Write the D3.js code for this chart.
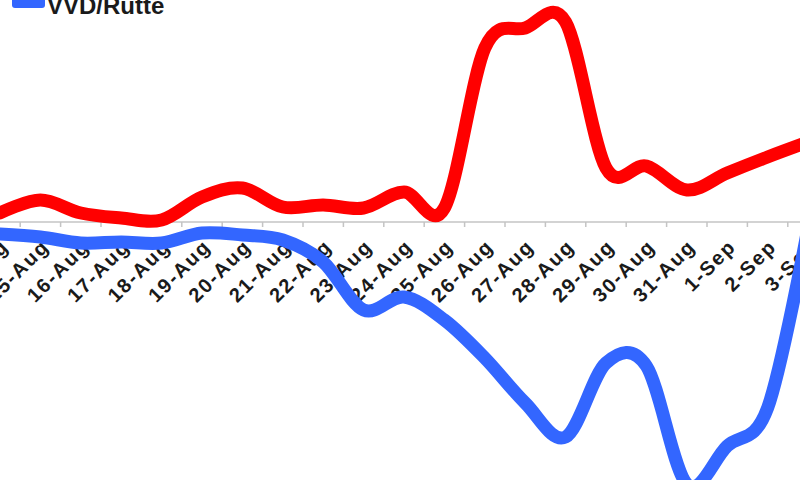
<!DOCTYPE html>
<html>
<head>
<meta charset="utf-8">
<script src="https://cdnjs.cloudflare.com/ajax/libs/d3/7.8.5/d3.min.js"></script>
<style>
  html, body { margin: 0; padding: 0; background: #fff; overflow: hidden; }
  svg { display: block; font-family: "Liberation Sans", Arial, sans-serif; }
</style>
</head>
<body>
<script>
// daily categories (the view is cropped: 14-Aug sits on the left edge, 3-Sep just past the right one)
var days = ["14-Aug", "15-Aug", "16-Aug", "17-Aug", "18-Aug", "19-Aug", "20-Aug",
            "21-Aug", "22-Aug", "23-Aug", "24-Aug", "25-Aug", "26-Aug", "27-Aug",
            "28-Aug", "29-Aug", "30-Aug", "31-Aug", "1-Sep", "2-Sep", "3-Sep"];

// red series (above zero)
var redValues = [4.5, 11, 4.5, 2, 1, 12.5, 17, 7.5, 8.5, 7, 15, 7,
                 87, 97, 100, 27, 28, 16, 24.5, 32.5, 40];

// blue series VVD/Rutte (below zero)
var vvdValues = [-6, -7.5, -10.5, -10, -10.5, -5.5, -6.5, -9, -20, -44, -37.5, -49,
                 -68, -90.5, -107.5, -70.5, -72, -131, -112, -93, -3];

var legendLabel = "VVD/Rutte";

var width = 800, height = 480;

var svg = d3.select("body")
    .append("svg")
    .attr("width", width)
    .attr("height", height);

// one category every ~40.4px, first one on x = 0
var x = d3.scalePoint()
    .domain(days)
    .range([0, 808]);

var step = x.step();

// zero line sits at y = 222
var y = d3.scaleLinear()
    .domain([-129, 111])
    .range([480, 0]);

// category axis, ticks between the categories
var axis = svg.append("g")
    .attr("transform", "translate(0," + y(0) + ")");

axis.append("line")
    .attr("x1", 0)
    .attr("x2", width)
    .attr("stroke", "#c4c4c4")
    .attr("stroke-width", 1.5);

axis.selectAll(".tick")
    .data(days)
    .enter().append("line")
    .attr("class", "tick")
    .attr("x1", d => x(d) + step / 2)
    .attr("x2", d => x(d) + step / 2)
    .attr("y1", 0)
    .attr("y2", 5)
    .attr("stroke", "#c4c4c4")
    .attr("stroke-width", 1.5);

axis.selectAll("text")
    .data(days)
    .enter().append("text")
    .attr("transform", d => "translate(" + (x(d) + 5) + ",21) rotate(-45)")
    .attr("text-anchor", "end")
    .attr("dy", "0.35em")
    .attr("font-size", "20px")
    .attr("font-weight", "bold")
    .attr("letter-spacing", "1.8px")
    .attr("fill", "#1a1a1a")
    .text(d => d);

var line = d3.line()
    .curve(d3.curveCardinal.tension(0))
    .x((d, i) => x(days[i]))
    .y(d => y(d));

svg.append("path")
    .datum(redValues)
    .attr("fill", "none")
    .attr("stroke", "#ff0000")
    .attr("stroke-width", 13)
    .attr("stroke-linejoin", "round")
    .attr("stroke-linecap", "round")
    .attr("d", line);

svg.append("path")
    .datum(vvdValues)
    .attr("fill", "none")
    .attr("stroke", "#3366ff")
    .attr("stroke-width", 13)
    .attr("stroke-linejoin", "round")
    .attr("stroke-linecap", "round")
    .attr("d", line);

// legend (top of it is cut off)
var legend = svg.append("g");

legend.append("rect")
    .attr("x", 12)
    .attr("y", -6)
    .attr("width", 33)
    .attr("height", 14)
    .attr("rx", 3)
    .attr("fill", "#3366ff");

legend.append("text")
    .attr("x", 47)
    .attr("y", 14)
    .attr("font-size", "24px")
    .attr("font-weight", "bold")
    .attr("fill", "#1a1a1a")
    .text(legendLabel);
</script>
</body>
</html>
